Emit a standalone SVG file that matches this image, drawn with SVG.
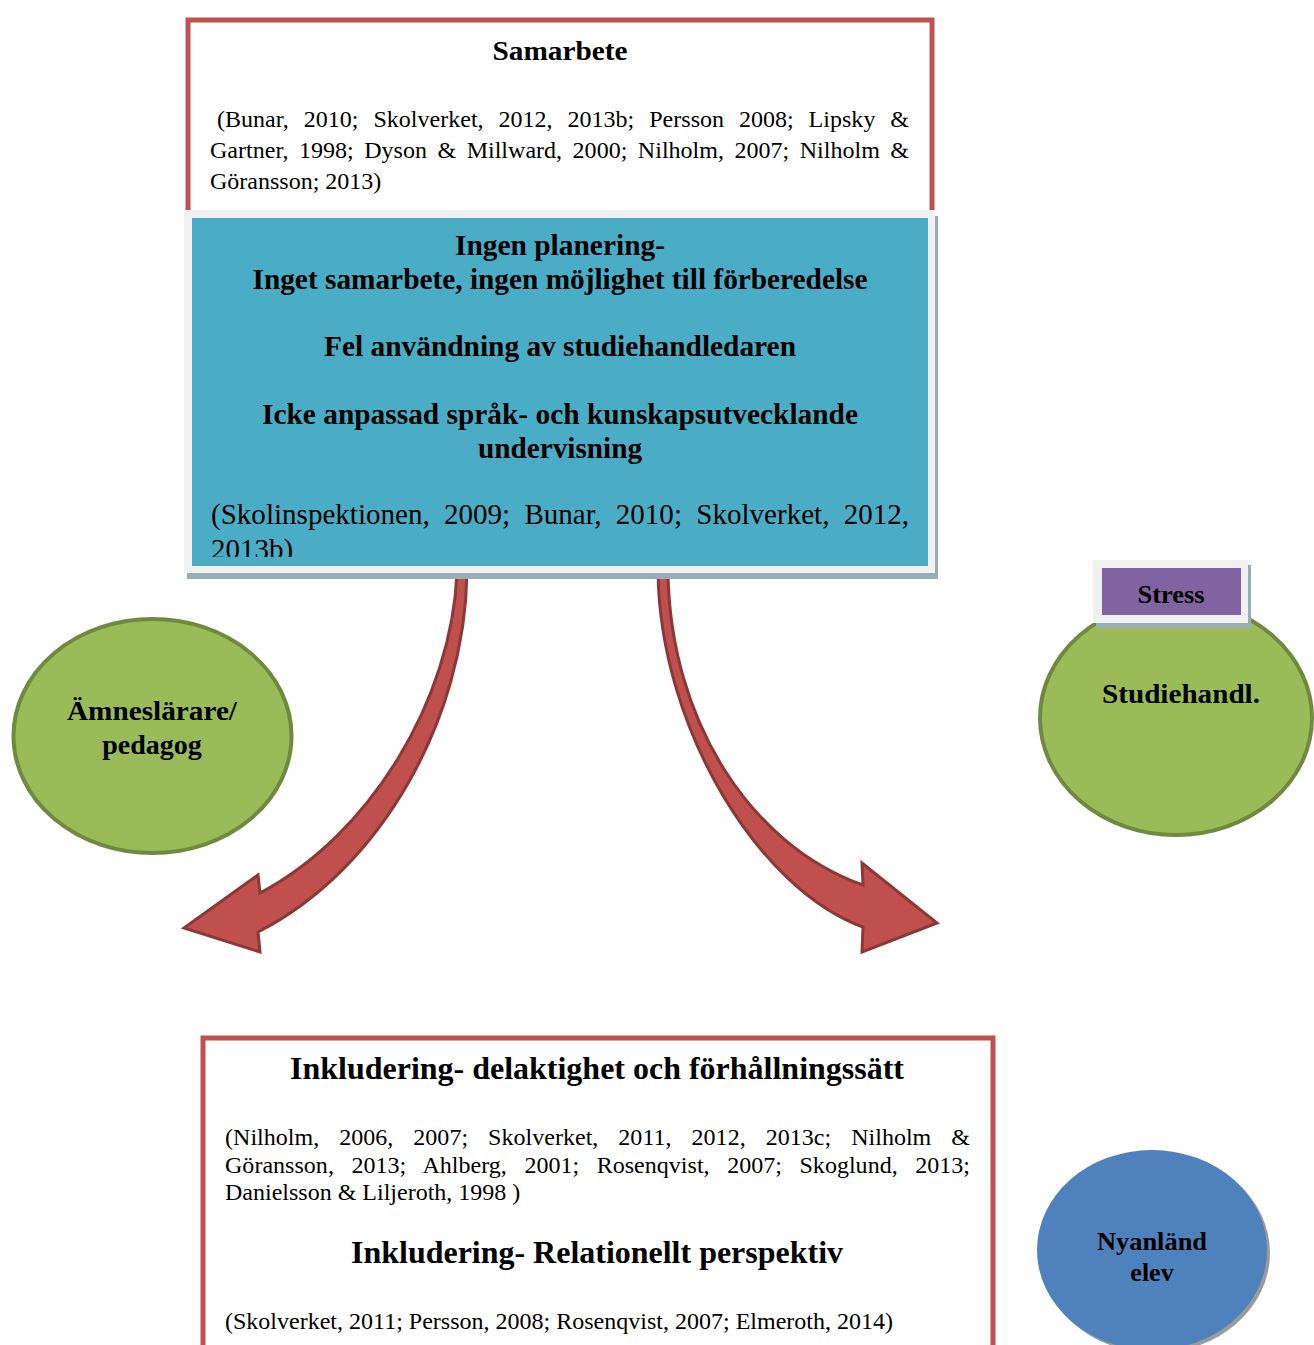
<svg xmlns="http://www.w3.org/2000/svg" width="1314" height="1345" viewBox="0 0 1314 1345">
  <style>
    text { font-family: "Liberation Serif", "Times New Roman", serif; fill: #000; }
    .b { font-weight: bold; }
    .c { text-anchor: middle; }
    .redbox { fill: #ffffff; stroke: #c0504d; stroke-width: 5; }
    .frame { fill: #f0f0f0; }
    .shadow { fill: #98aeb7; }
    .green { fill: #9bbb59; stroke: #71893f; stroke-width: 4; }
    .arrow { fill: #c0504d; stroke: #8c3836; stroke-width: 3; stroke-linejoin: miter; }
  </style>
  <defs>
    <clipPath id="blueClip">
      <rect x="192" y="218" width="736" height="339"/>
    </clipPath>
  </defs>

  <rect width="1314" height="1345" fill="#ffffff"/>

  <!-- Samarbete box -->
  <g id="samarbete">
    <rect class="redbox" x="188" y="20" width="744" height="205"/>
    <text class="b c" x="560" y="60" font-size="28" textLength="135" lengthAdjust="spacingAndGlyphs">Samarbete</text>
    <text x="217" y="127" font-size="24" word-spacing="8.9" textLength="692" lengthAdjust="spacing">(Bunar, 2010; Skolverket, 2012, 2013b; Persson 2008; Lipsky &amp;</text>
    <text x="210" y="158" font-size="24" word-spacing="4.5" textLength="699" lengthAdjust="spacing">Gartner, 1998; Dyson &amp; Millward, 2000; Nilholm, 2007; Nilholm &amp;</text>
    <text x="210" y="189" font-size="24">Göransson; 2013)</text>
  </g>

  <!-- Curved arrows -->
  <g id="connectors">
    <path class="arrow" d="M457,572 C452,700 370,835 260,893 L258,875 L184,928 L260,952 L258,932 C380,870 465,720 467,572 Z"/>
    <path class="arrow" d="M668,572 C670,720 750,845 863,885 L862,863 L937,923 L862,952 L863,927 C760,890 660,730 658,572 Z"/>
  </g>

  <!-- Problems box -->
  <g id="problem">
    <rect class="shadow" x="187" y="216" width="751" height="363"/>
    <rect class="frame" x="184" y="210" width="751" height="363"/>
    <rect x="192" y="218" width="736" height="348" fill="#4bacc6"/>
    <g clip-path="url(#blueClip)">
      <text class="b c" x="560" y="255" font-size="29" textLength="210" lengthAdjust="spacingAndGlyphs">Ingen planering-</text>
      <text class="b c" x="560" y="289" font-size="29" textLength="615" lengthAdjust="spacingAndGlyphs">Inget samarbete, ingen möjlighet till förberedelse</text>
      <text class="b c" x="560" y="356" font-size="29" textLength="472" lengthAdjust="spacingAndGlyphs">Fel användning av studiehandledaren</text>
      <text class="b c" x="560" y="424" font-size="29" textLength="596" lengthAdjust="spacingAndGlyphs">Icke anpassad språk- och kunskapsutvecklande</text>
      <text class="b c" x="560" y="458" font-size="29" textLength="164" lengthAdjust="spacingAndGlyphs">undervisning</text>
      <text x="211" y="524" font-size="29" word-spacing="7" textLength="698" lengthAdjust="spacing">(Skolinspektionen, 2009; Bunar, 2010; Skolverket, 2012,</text>
      <text x="211" y="559" font-size="29">2013b)</text>
    </g>
  </g>

  <!-- Subject teacher -->
  <g id="amneslarare">
    <ellipse class="green" cx="152.5" cy="736" rx="139" ry="117"/>
    <text class="b c" x="152" y="720" font-size="28" textLength="170" lengthAdjust="spacingAndGlyphs">Ämneslärare/</text>
    <text class="b c" x="152" y="754" font-size="28">pedagog</text>
  </g>

  <!-- Study supervisor -->
  <g id="studiehandl">
    <ellipse class="green" cx="1176" cy="718" rx="136" ry="117"/>
    <text class="b c" x="1181" y="703" font-size="28" textLength="158" lengthAdjust="spacingAndGlyphs">Studiehandl.</text>
  </g>

  <!-- Stress label -->
  <g id="stress">
    <rect class="shadow" x="1096" y="565" width="155" height="63"/>
    <rect class="frame" x="1093" y="560" width="155" height="63"/>
    <rect x="1102" y="568" width="139" height="47" fill="#8064a2"/>
    <text class="b c" x="1171" y="603" font-size="26" textLength="67" lengthAdjust="spacingAndGlyphs">Stress</text>
  </g>

  <!-- Inclusion box -->
  <g id="inkludering">
    <rect class="redbox" x="203" y="1038" width="790" height="330"/>
    <text class="b c" x="597" y="1079" font-size="32" textLength="614" lengthAdjust="spacingAndGlyphs">Inkludering- delaktighet och förhållningssätt</text>
    <text x="225" y="1145" font-size="24" word-spacing="14" textLength="745" lengthAdjust="spacing">(Nilholm, 2006, 2007; Skolverket, 2011, 2012, 2013c; Nilholm &amp;</text>
    <text x="225" y="1173" font-size="24" word-spacing="11.5" textLength="745" lengthAdjust="spacing">Göransson, 2013; Ahlberg, 2001; Rosenqvist, 2007; Skoglund, 2013;</text>
    <text x="225" y="1200" font-size="24">Danielsson &amp; Liljeroth, 1998 )</text>
    <text class="b c" x="597" y="1263" font-size="32" textLength="492" lengthAdjust="spacingAndGlyphs">Inkludering- Relationellt perspektiv</text>
    <text x="225" y="1329" font-size="24" textLength="668" lengthAdjust="spacing">(Skolverket, 2011; Persson, 2008; Rosenqvist, 2007; Elmeroth, 2014)</text>
  </g>

  <!-- Newly arrived pupil -->
  <g id="nyanland">
    <ellipse cx="1155" cy="1253" rx="115" ry="100" fill="#9a9a9a"/>
    <ellipse cx="1152" cy="1250" rx="115" ry="100" fill="#4f81bd"/>
    <text class="b c" x="1152" y="1250" font-size="26" textLength="110" lengthAdjust="spacingAndGlyphs">Nyanländ</text>
    <text class="b c" x="1152" y="1281" font-size="26">elev</text>
  </g>
</svg>
